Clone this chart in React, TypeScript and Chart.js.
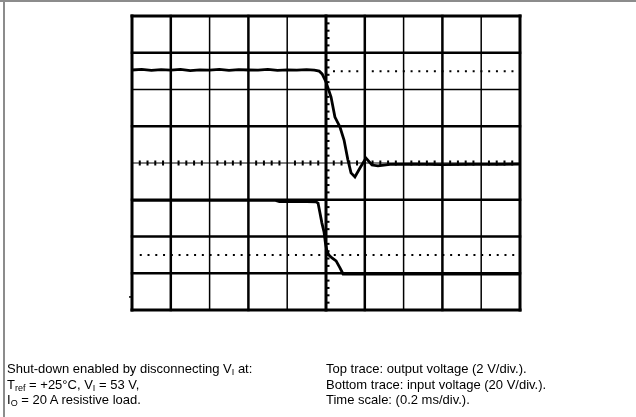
import React, { useEffect, useRef } from "react";
import { Chart, registerables } from "chart.js";

Chart.register(...registerables);

// Time axis: ms, 0.2 ms/div, 0 at the centre graticule line
const timeTicks = [-1.0, -0.8, -0.6, -0.4, -0.2, 0, 0.2, 0.4, 0.6, 0.8, 1.0];
// Top trace axis: output voltage, 2 V/div
const outTicks = [-8, -6, -4, -2, 0, 2, 4, 6, 8];

// Top trace: output voltage (V)
const outTime = [
  -1.0, -0.95, -0.9, -0.85, -0.8, -0.75, -0.7, -0.65, -0.6, -0.55, -0.5, -0.45,
  -0.4, -0.35, -0.3, -0.25, -0.2, -0.15, -0.1, -0.06, -0.035, -0.02, 0.0, 0.026,
  0.046, 0.072, 0.093, 0.113, 0.129, 0.149, 0.175, 0.206, 0.237, 0.268, 0.33,
  0.45, 0.6, 0.75, 0.9, 1.0,
];
const outVolts = [
  5.06, 5.09, 5.04, 5.08, 5.05, 5.1, 5.03, 5.07, 5.05, 5.09, 5.04, 5.08, 5.06,
  5.05, 5.1, 5.04, 5.07, 5.05, 5.08, 5.06, 5.0, 4.85, 4.41, 3.59, 2.5, 1.96,
  1.25, 0.16, -0.54, -0.76, -0.27, 0.27, -0.11, -0.16, -0.08, -0.06, -0.09,
  -0.07, -0.08, -0.06,
];

// Bottom trace: input voltage (V), 20 V/div
const inTime = [
  -1.0, -0.6, -0.26, -0.24, -0.1, -0.052, -0.041, -0.031, -0.021, -0.01, -0.003,
  0.005, 0.015, 0.031, 0.052, 0.072, 0.088, 0.3, 0.6, 1.0,
];
const inVolts = [
  -20.3, -20.3, -20.3, -21.0, -21.0, -21.1, -21.8, -27.2, -32.7, -37.6, -43.5,
  -47.9, -50.1, -51.7, -53.3, -57.1, -60.4, -60.4, -60.4, -60.4,
];

// Dotted reference levels
const outRefTime = [0.036, 1.0];
const outRefVolts = [5.0, 5.0];
const inRefTime = [-0.96, 1.0];
const inRefVolts = [-50, -50];
const inMarkerVolts = -72.9;

// styles (kept apart from data)
const vLineWidths = [3, 2.5, 1.5, 2.5, 1.5, 3, 2.5, 1.5, 2.5, 1.5, 3];
const hLineWidths = [3, 2.5, 1.5, 2.5, 1, 2.5, 2.5, 2.5, 3];

const pts = (xs: number[], ys: number[]) => xs.map((x, i) => ({ x, y: ys[i] }));

const graticule = {
  id: "graticule",
  beforeDatasetsDraw(chart: any) {
    const ctx = chart.ctx;
    const xs = chart.scales.x;
    const ys = chart.scales.yOut;
    const yi = chart.scales.yIn;
    const top = ys.getPixelForValue(outTicks[outTicks.length - 1]);
    const bottom = ys.getPixelForValue(outTicks[0]);
    const left = xs.getPixelForValue(timeTicks[0]);
    const right = xs.getPixelForValue(timeTicks[timeTicks.length - 1]);
    ctx.save();
    ctx.strokeStyle = "#000";
    ctx.fillStyle = "#000";
    ctx.lineCap = "square";
    ctx.setLineDash([]);
    timeTicks.forEach((t, i) => {
      const px = xs.getPixelForValue(t);
      ctx.lineWidth = vLineWidths[i];
      ctx.beginPath();
      ctx.moveTo(px, top);
      ctx.lineTo(px, bottom);
      ctx.stroke();
    });
    outTicks.forEach((v, i) => {
      const py = ys.getPixelForValue(v);
      ctx.lineWidth = hLineWidths[outTicks.length - 1 - i];
      ctx.beginPath();
      ctx.moveTo(left, py);
      ctx.lineTo(right, py);
      ctx.stroke();
    });
    // minor ticks on centre lines (1/5 div)
    const cx = xs.getPixelForValue(0);
    const cy = ys.getPixelForValue(0);
    for (let k = -20; k <= 20; k++) {
      if (k % 5 === 0) continue;
      const py = ys.getPixelForValue(k * 0.4);
      ctx.fillRect(cx + 1, py - 1, 2.5, 2);
    }
    for (let k = -25; k <= 25; k++) {
      if (k % 5 === 0) continue;
      const px = xs.getPixelForValue(k * 0.04);
      ctx.fillRect(px - 1, cy - 2.5, 2, 5);
    }
    // channel ground marker at left edge
    const gy = yi.getPixelForValue(inMarkerVolts);
    ctx.fillRect(left - 3, gy - 0.75, 3, 1.5);
    ctx.restore();
  },
};

export default function App() {
  const ref = useRef<HTMLCanvasElement>(null);
  useEffect(() => {
    document.body.style.margin = "0";
    const chart = new Chart(ref.current!, {
      type: "line",
      data: {
        datasets: [
          {
            data: pts(outRefTime, outRefVolts),
            yAxisID: "yOut",
            borderColor: "#000",
            borderWidth: 2,
            borderDash: [2, 5.76],
            pointRadius: 0,
          },
          {
            data: pts(inRefTime, inRefVolts),
            yAxisID: "yIn",
            borderColor: "#000",
            borderWidth: 2,
            borderDash: [2, 5.76],
            pointRadius: 0,
          },
          {
            data: pts(outTime, outVolts),
            yAxisID: "yOut",
            borderColor: "#000",
            borderWidth: 2.8,
            pointRadius: 0,
            tension: 0,
          },
          {
            data: pts(inTime, inVolts),
            yAxisID: "yIn",
            borderColor: "#000",
            borderWidth: 2.8,
            pointRadius: 0,
            tension: 0,
          },
        ],
      },
      options: {
        animation: false,
        responsive: false,
        devicePixelRatio: 1,
        layout: { padding: { left: 132, top: 16, right: 116, bottom: 107 } },
        plugins: { legend: { display: false }, tooltip: { enabled: false } },
        scales: {
          x: { type: "linear", display: false, min: -1, max: 1 },
          yOut: { type: "linear", display: false, min: -8, max: 8 },
          yIn: { type: "linear", display: false, min: -80, max: 80 },
        },
      },
      plugins: [graticule],
    });
    return () => chart.destroy();
  }, []);

  const textStyle: React.CSSProperties = {
    position: "absolute",
    top: 361,
    fontFamily: "'Liberation Sans', Arial, Helvetica, sans-serif",
    fontSize: 13,
    lineHeight: "15.5px",
    color: "#000",
    whiteSpace: "nowrap",
  };
  const sub: React.CSSProperties = { fontSize: 9, lineHeight: 0, verticalAlign: "-2px" };

  return (
    <div style={{ position: "relative", width: 636, height: 417, background: "#fff", overflow: "hidden" }}>
      <div style={{ position: "absolute", left: 0, top: 0, width: 636, height: 2, background: "#8c8c8c" }} />
      <div style={{ position: "absolute", left: 3, top: 0, width: 1.5, height: 417, background: "#8c8c8c" }} />
      <canvas ref={ref} width={636} height={417} style={{ position: "absolute", left: 0, top: 0 }} />
      <div style={{ ...textStyle, left: 7 }}>
        <div>
          Shut-down enabled by disconnecting V<sub style={sub}>I</sub> at:
        </div>
        <div>
          T<sub style={sub}>ref</sub> = +25°C, V<sub style={sub}>I</sub> = 53 V,
        </div>
        <div>
          I<sub style={sub}>O</sub> = 20 A resistive load.
        </div>
      </div>
      <div style={{ ...textStyle, left: 326 }}>
        <div>Top trace: output voltage (2 V/div.).</div>
        <div>Bottom trace: input voltage (20 V/div.).</div>
        <div>Time scale: (0.2 ms/div.).</div>
      </div>
    </div>
  );
}
